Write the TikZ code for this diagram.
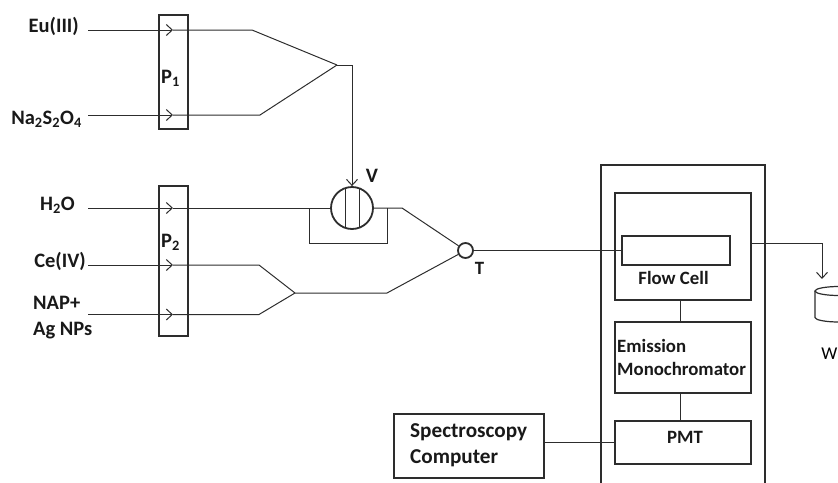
\documentclass[tikz,border=0pt]{standalone}
\usepackage{fontspec}
\setmainfont{Carlito}
\usepackage{xcolor}
\usetikzlibrary{shapes.geometric,arrows.meta,positioning}
\definecolor{lineink}{RGB}{45,45,45}
\tikzstyle{block}=[rectangle,draw=lineink,line width=1.6pt,inner sep=0pt]
\tikzstyle{label}=[inner sep=0pt,font=\fontsize{20.5}{26}\selectfont\bfseries,text=black!90]
\tikzstyle{boxlabel}=[inner sep=0pt,font=\fontsize{18.8}{23}\selectfont\bfseries,text=black!90]
\tikzstyle{pipe}=[draw=lineink,line width=1pt]
\tikzstyle{arrow}=[pipe,-{Straight Barb[length=6pt,width=11pt]}]
\begin{document}
\begin{tikzpicture}[x=1pt,y=-1pt]

  \useasboundingbox (0,0) rectangle (838,482);
  \clip (0,0) rectangle (838,482);

  % Pumps
  \node[block, minimum width=29pt, minimum height=114pt] (pumpa) at (173.5,72) {};
  \node[block, minimum width=29pt, minimum height=150pt] (pumpb) at (173.5,261) {};
  \node[label] (pumpalab) at (170.5,78) {P\textsubscript{1}};
  \node[label] (pumpblab) at (170.5,242) {P\textsubscript{2}};

  % Inlets
  \node[label, anchor=east] (eu) at (79,26) {Eu(III)};
  \node[label, anchor=east] (na) at (82,119) {Na\textsubscript{2}S\textsubscript{2}O\textsubscript{4}};
  \node[label, anchor=east] (water) at (75,205) {H\textsubscript{2}O};
  \node[label, anchor=east] (ce) at (86,261) {Ce(IV)};
  \node[label, anchor=west, align=left] (nap) at (33,318) {NAP+\\Ag NPs};

  \coordinate (euin) at (88,30);
  \coordinate (nain) at (88,115);
  \coordinate (waterin) at (88,208);
  \coordinate (cein) at (88,265);
  \coordinate (napin) at (88,314.5);
  \coordinate (eutip) at (173,30);
  \coordinate (natip) at (173,115);
  \coordinate (watertip) at (173,208);
  \coordinate (cetip) at (173,265);
  \coordinate (naptip) at (173,314.5);

  % Valve and tee
  \node[circle, draw=lineink, line width=1.8pt, minimum size=42pt, inner sep=0pt] (valve) at (352,208) {};
  \node[label] (valvelab) at (372,176) {V};
  \node[circle, draw=lineink, line width=1.8pt, minimum size=15pt, inner sep=0pt] (tee) at (465.5,250.5) {};
  \node[boxlabel] (teelab) at (479.5,268.5) {T};

  % Detector
  \node[block, minimum width=164pt, minimum height=340pt] (detector) at (683,335) {};
  \node[block, minimum width=136pt, minimum height=107pt] (flowbox) at (683,246.5) {};
  \node[block, minimum width=108pt, minimum height=29pt] (cell) at (676,250.5) {};
  \node[boxlabel] (celllab) at (673.5,278) {Flow Cell};
  \node[block, minimum width=136pt, minimum height=71pt] (mono) at (683,357.5) {};
  \node[boxlabel, anchor=west, align=left] (monolab) at (617,357) {Emission\\Monochromator};
  \node[block, minimum width=136pt, minimum height=43pt] (pmt) at (683,442.5) {};
  \node[boxlabel] (pmtlab) at (685,437) {PMT};
  \node[block, minimum width=150pt, minimum height=64pt] (computer) at (469,446) {};
  \node[label, anchor=west, align=left, font=\fontsize{21.2}{26}\selectfont\bfseries] (computerlab) at (410,445) {Spectroscopy\\Computer};

  % Waste
  \draw[pipe, line width=1.2pt] (839,291) ellipse [x radius=24pt, y radius=4.5pt];
  \draw[pipe, line width=1.2pt] (815,291) -- (815,317.5) arc [start angle=180, end angle=360, x radius=24pt, y radius=4.5pt];
  \node[inner sep=0pt, anchor=east, font=\fontsize{18}{22}\selectfont] (wastelab) at (837.5,354) {W};
  \coordinate (wasteout) at (751,243);
  \coordinate (wastein) at (822,243);
  \coordinate (wastetip) at (822,279);

  % Lines
  \draw[arrow] (euin) -- (eutip);
  \draw[arrow] (nain) -- (natip);
  \draw[arrow] (waterin) -- (watertip);
  \draw[arrow] (cein) -- (cetip);
  \draw[arrow] (napin) -- (naptip);

  \coordinate (eubend) at (252,30);
  \coordinate (nabend) at (260,115);
  \coordinate (joina) at (337,65);
  \coordinate (joinb) at (352,65);
  \draw[pipe] (eutip) -- (eubend) -- (joina);
  \draw[pipe] (natip) -- (nabend) -- (joina);
  \draw[arrow] (joina) -- (joinb) -- (valve.north);

  \coordinate (bypassl) at (309,208);
  \coordinate (bypassr) at (387,208);
  \coordinate (waterbend) at (402,208);
  \draw[pipe] (watertip) -- (valve);
  \draw[pipe] (valve) -- (waterbend) -- (tee);
  \draw[pipe] (bypassl) -- ++(0,35) -| (bypassr);
  \draw[pipe] ([shift={(-7pt,19.8pt)}]valve.center) -- ([shift={(-7pt,-19.8pt)}]valve.center);
  \draw[pipe] ([shift={(7pt,19.8pt)}]valve.center) -- ([shift={(7pt,-19.8pt)}]valve.center);

  \coordinate (cebend) at (259,265);
  \coordinate (napbend) at (259,314.5);
  \coordinate (joinc) at (295,293);
  \coordinate (joind) at (387,293);
  \draw[pipe] (cetip) -- (cebend) -- (joinc);
  \draw[pipe] (naptip) -- (napbend) -- (joinc);
  \draw[pipe] (joinc) -- (joind) -- (tee);

  \draw[pipe] (tee) -- (cell);
  \draw[arrow] (wasteout) -- (wastein) -- (wastetip);
  \draw[pipe] (flowbox.south -| 680,0) -- (mono.north -| 680,0);
  \draw[pipe] (mono.south -| 680,0) -- (pmt.north -| 680,0);
  \draw[pipe] (computer.east |- pmt) -- (pmt.west);

\end{tikzpicture}
\end{document}
